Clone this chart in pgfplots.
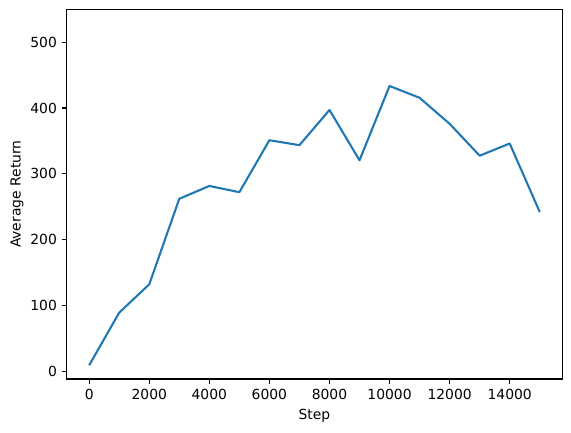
\documentclass[border=0pt]{standalone}
\usepackage{pgfplots}
\pgfplotsset{compat=1.18}
\usepackage{fontspec}
\setmainfont{DejaVu Sans}
\definecolor{mplblue}{HTML}{1F77B4}
\begin{document}
\begin{tikzpicture}
\begin{axis}[
  scale only axis,
  width=356.8pt, height=266.2pt,
  xmin=-750, xmax=15750,
  ymin=-12, ymax=550,
  xtick={0,2000,4000,6000,8000,10000,12000,14000},
  ytick={0,100,200,300,400,500},
  scaled x ticks=false,
  xticklabel style={/pgf/number format/1000 sep={}},
  /pgf/number format/assume math mode=true,
  tick align=outside,
  tick pos=left,
  major tick length=3.5pt,
  every tick/.style={black, line width=0.8pt},
  axis line style={line width=0.8pt},
  ticklabel style={font=\fontsize{10}{12}\selectfont},
  label style={font=\fontsize{10}{12}\selectfont},
  xlabel={Step},
  ylabel={Average Return},
  xlabel style={yshift=0pt},
  ylabel style={yshift=-2pt},
]
\addplot[mplblue, line width=1.5pt, line join=round] coordinates {
(0,9) (1000,89) (2000,132) (3000,262) (4000,281.5) (5000,272)
(6000,351) (7000,343.5) (8000,397) (9000,320.5) (10000,433.5)
(11000,415.5) (12000,376) (13000,327.5) (14000,346) (15000,242)
};
\end{axis}
\pgfresetboundingbox
\path (current axis.south west) ++(-48pt,-38.2pt) coordinate (bl);
\path (current axis.north east) ++(6.3pt,6.7pt) coordinate (tr);
\path (bl) rectangle (tr);
\end{tikzpicture}
\end{document}
